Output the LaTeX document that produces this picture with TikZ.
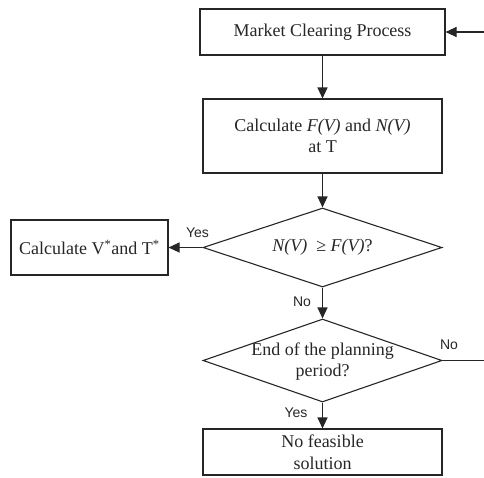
\documentclass[tikz,border=0pt]{standalone}
\usepackage{fontspec}
\setmainfont{Liberation Serif}
\newfontfamily\labfont{Liberation Sans}
\usetikzlibrary{arrows.meta,shapes.geometric}
\tikzset{
  ln/.style={line width=1.1pt, draw=black!85},
  arr/.style={ln, -{Triangle[length=11pt,width=10pt]}},
  procbox/.style={ln, rectangle, inner sep=0pt, align=center, font=\fontsize{18}{21.5}\selectfont, text=black!85},
  decbox/.style={ln, diamond, inner sep=0pt, minimum width=239pt, text=black!85},
  lab/.style={font=\labfont\fontsize{14}{16}\selectfont, text=black!85, inner sep=0pt}
}
\begin{document}
\begin{tikzpicture}[x=1pt,y=-1pt]
\useasboundingbox (0,0) rectangle (484,477);
\node[procbox, minimum width=245pt, minimum height=46pt] (b1) at (322.5,32) {Market Clearing Process};
\node[procbox, minimum width=239pt, minimum height=74pt] (b2) at (322.5,136) {Calculate \textit{F(V)} and \textit{N(V)}\\at T};
\node[decbox, minimum height=79pt, label={[font=\fontsize{18}{21.5}\selectfont, text=black!85]center:\textit{N(V)}\ \ ≥ \textit{F(V)}?}] (d1) at (322.5,247.5) {};
\node[procbox, minimum width=157pt, minimum height=55pt] (c) at (89.5,247.5) {Calculate V\textsuperscript{*}and T\textsuperscript{*}};
\node[decbox, minimum height=83pt, label={[align=center, font=\fontsize{18}{21.5}\selectfont, text=black!85, yshift=-1pt]center:End of the planning\\period?}] (d2) at (322.5,360.5) {};
\node[procbox, minimum width=239pt, minimum height=46pt] (b3) at (322.5,452) {No feasible\\solution};
\coordinate (inR) at (484,32);
\coordinate (outR) at (484,360.5);
\draw[arr] (inR) -- (b1.east);
\draw[arr] (b1) -- (b2);
\draw[arr] (b2) -- (d1);
\draw[arr] (d1) -- (c);
\draw[arr] (d1) -- (d2);
\draw[arr] (d2) -- (b3);
\draw[ln] (d2.east) -- (outR);
\node[lab] (yes1) at (197.5,233) {Yes};
\node[lab] (no1) at (302,302) {No};
\node[lab] (no2) at (449,345) {No};
\node[lab] (yes2) at (296,413) {Yes};
\end{tikzpicture}
\end{document}
